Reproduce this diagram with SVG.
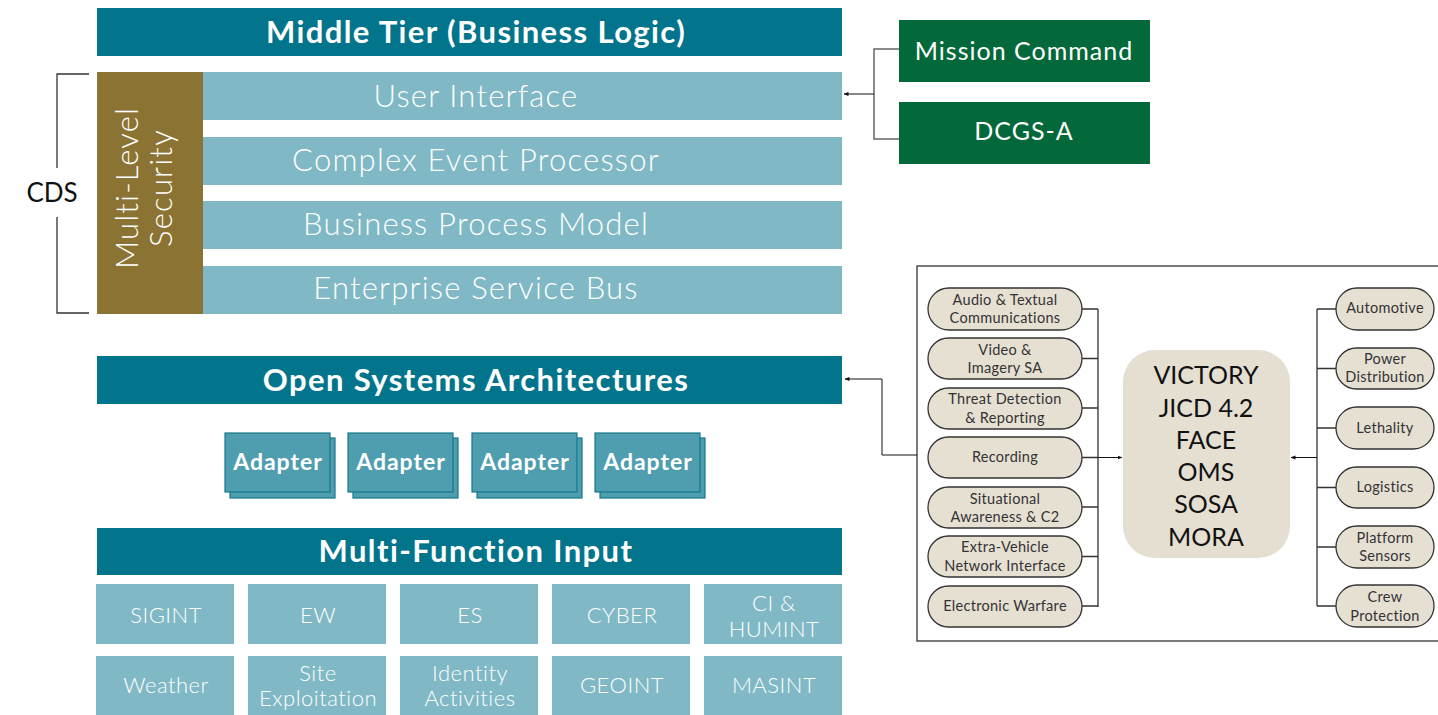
<svg xmlns="http://www.w3.org/2000/svg" width="1438" height="715" viewBox="0 0 1438 715">
<defs>
<style>
.hdr{fill:#02758C}
.row{fill:#80B9C5}
.ttl{font-family:Lato,"Noto Sans",sans-serif;font-weight:700;font-size:31px;letter-spacing:1.4px;fill:#fff;text-anchor:middle}
.lt{font-family:Lato,"Noto Sans",sans-serif;font-weight:300;font-size:31px;letter-spacing:1.2px;fill:#fff;text-anchor:middle}
.grid{font-family:Lato,"Noto Sans",sans-serif;font-weight:300;font-size:22px;letter-spacing:0.5px;fill:#fff;text-anchor:middle}
.grn{fill:#03693A}
.gt{font-family:Lato,"Noto Sans",sans-serif;font-weight:400;font-size:25px;letter-spacing:1px;fill:#fff;text-anchor:middle}
.ad{fill:#4E9EB0;stroke:#17778A;stroke-width:1.2}
.adt{font-family:Lato,"Noto Sans",sans-serif;font-weight:700;font-size:23px;letter-spacing:1px;fill:#fff;text-anchor:middle}
.pill{fill:#E6E0D3;stroke:#333;stroke-width:1.3}
.pt{font-family:Lato,"Noto Sans",sans-serif;font-weight:400;font-size:14.5px;letter-spacing:0.3px;fill:#333;text-anchor:middle}
.ct{font-family:Lato,"Noto Sans",sans-serif;font-weight:400;font-size:25px;fill:#111;text-anchor:middle}
.ln{fill:none;stroke:#333;stroke-width:1.3}
.gl{fill:none;stroke:#666;stroke-width:1.5}
.ar{fill:none;stroke:#111;stroke-width:1;marker-end:url(#ah)}
</style>
<marker id="ah" viewBox="0 0 10 10" refX="9" refY="5" markerWidth="5" markerHeight="5" orient="auto" markerUnits="strokeWidth">
<path d="M0,1 L10,5 L0,9 z" fill="#111"/>
</marker>
</defs>

<g id="middle-tier">
<rect class="hdr" x="97" y="8" width="745" height="48"/>
<text class="ttl" x="476" y="43">Middle Tier (Business Logic)</text>
</g>
<g id="mls">
<rect x="97" y="72" width="106" height="242" fill="#8B7433"/>
<text class="lt" transform="translate(138,188) rotate(-90)" x="0" y="0">Multi-Level</text>
<text class="lt" transform="translate(172,188) rotate(-90)" x="0" y="0">Security</text>
</g>
<g id="user-interface">
<rect class="row" x="203" y="72" width="639" height="48"/>
<text class="lt" x="476" y="107">User Interface</text>
</g>
<g id="cep">
<rect class="row" x="203" y="137" width="639" height="48"/>
<text class="lt" x="476" y="171">Complex Event Processor</text>
</g>
<g id="bpm">
<rect class="row" x="203" y="201" width="639" height="48"/>
<text class="lt" x="476" y="235">Business Process Model</text>
</g>
<g id="esb">
<rect class="row" x="203" y="266" width="639" height="48"/>
<text class="lt" x="476" y="299">Enterprise Service Bus</text>
</g>
<g id="cds">
<path class="ln" d="M89,74 H57 V168 M57,217 V313 H89"/>
<text x="52" y="202" font-family="Lato,'Noto Sans',sans-serif" font-size="26" fill="#111" text-anchor="middle">CDS</text>
</g>

<g id="mission-command">
<rect class="grn" x="899" y="20" width="251" height="62"/>
<text class="gt" x="1024" y="60">Mission Command</text>
</g>
<g id="dcgs-a">
<rect class="grn" x="899" y="102" width="251" height="62"/>
<text class="gt" x="1024" y="140">DCGS-A</text>
</g>

<g id="osa">
<rect class="hdr" x="97" y="356" width="745" height="48"/>
<text class="ttl" x="476" y="391">Open Systems Architectures</text>
</g>
<g id="adapter-1">
<rect class="ad" x="230" y="438" width="105" height="60"/>
<rect class="ad" x="225" y="433" width="105" height="59"/>
<text class="adt" x="278" y="470">Adapter</text>
</g>
<g id="adapter-2">
<rect class="ad" x="353" y="438" width="105" height="60"/>
<rect class="ad" x="348" y="433" width="105" height="59"/>
<text class="adt" x="401" y="470">Adapter</text>
</g>
<g id="adapter-3">
<rect class="ad" x="477" y="438" width="105" height="60"/>
<rect class="ad" x="472" y="433" width="105" height="59"/>
<text class="adt" x="525" y="470">Adapter</text>
</g>
<g id="adapter-4">
<rect class="ad" x="600" y="438" width="105" height="60"/>
<rect class="ad" x="595" y="433" width="105" height="59"/>
<text class="adt" x="648" y="470">Adapter</text>
</g>

<g id="mfi">
<rect class="hdr" x="97" y="528" width="745" height="47"/>
<text class="ttl" x="476" y="562">Multi-Function Input</text>
</g>
<g id="sigint"><rect class="row" x="96" y="584" width="138" height="60"/><text class="grid" x="166" y="623">SIGINT</text></g>
<g id="ew"><rect class="row" x="248" y="584" width="138" height="60"/><text class="grid" x="318" y="623">EW</text></g>
<g id="es"><rect class="row" x="400" y="584" width="138" height="60"/><text class="grid" x="470" y="623">ES</text></g>
<g id="cyber"><rect class="row" x="552" y="584" width="138" height="60"/><text class="grid" x="622" y="623">CYBER</text></g>
<g id="ci-humint"><rect class="row" x="704" y="584" width="138" height="60"/><text class="grid" x="774" y="611">CI &amp;</text><text class="grid" x="774" y="637">HUMINT</text></g>
<g id="weather"><rect class="row" x="96" y="656" width="138" height="59"/><text class="grid" x="166" y="693">Weather</text></g>
<g id="site-exploitation"><rect class="row" x="248" y="656" width="138" height="59"/><text class="grid" x="318" y="681">Site</text><text class="grid" x="318" y="706">Exploitation</text></g>
<g id="identity-activities"><rect class="row" x="400" y="656" width="138" height="59"/><text class="grid" x="470" y="681">Identity</text><text class="grid" x="470" y="706">Activities</text></g>
<g id="geoint"><rect class="row" x="552" y="656" width="138" height="59"/><text class="grid" x="622" y="693">GEOINT</text></g>
<g id="masint"><rect class="row" x="704" y="656" width="138" height="59"/><text class="grid" x="774" y="693">MASINT</text></g>

<g id="vehicle-panel">
<rect x="917" y="266" width="540" height="375" fill="none" stroke="#333" stroke-width="1.3"/>
</g>

<g id="audio"><rect class="pill" x="928" y="288" width="154" height="42" rx="21"/><text class="pt" x="1005" y="305">Audio &amp; Textual</text><text class="pt" x="1005" y="323">Communications</text></g>
<g id="video"><rect class="pill" x="928" y="338" width="154" height="41" rx="20.5"/><text class="pt" x="1005" y="355">Video &amp;</text><text class="pt" x="1005" y="373">Imagery SA</text></g>
<g id="threat"><rect class="pill" x="928" y="388" width="154" height="41" rx="20.5"/><text class="pt" x="1005" y="404">Threat Detection</text><text class="pt" x="1005" y="423">&amp; Reporting</text></g>
<g id="recording"><rect class="pill" x="928" y="437" width="154" height="41" rx="20.5"/><text class="pt" x="1005" y="462">Recording</text></g>
<g id="situational"><rect class="pill" x="928" y="487" width="154" height="41" rx="20.5"/><text class="pt" x="1005" y="504">Situational</text><text class="pt" x="1005" y="522">Awareness &amp; C2</text></g>
<g id="extra-vehicle"><rect class="pill" x="928" y="536" width="154" height="41" rx="20.5"/><text class="pt" x="1005" y="552">Extra-Vehicle</text><text class="pt" x="1005" y="571">Network Interface</text></g>
<g id="electronic-warfare"><rect class="pill" x="928" y="586" width="154" height="41" rx="20.5"/><text class="pt" x="1005" y="611">Electronic Warfare</text></g>

<g id="standards">
<rect x="1123" y="350" width="167" height="208" rx="32" fill="#E5DFD2"/>
<text class="ct" x="1206" y="384">VICTORY</text>
<text class="ct" x="1206" y="417">JICD 4.2</text>
<text class="ct" x="1206" y="449">FACE</text>
<text class="ct" x="1206" y="481">OMS</text>
<text class="ct" x="1206" y="513">SOSA</text>
<text class="ct" x="1206" y="546">MORA</text>
</g>

<g id="automotive"><rect class="pill" x="1336" y="288" width="98" height="42" rx="21"/><text class="pt" x="1385" y="313">Automotive</text></g>
<g id="power"><rect class="pill" x="1336" y="348" width="98" height="41" rx="20.5"/><text class="pt" x="1385" y="364">Power</text><text class="pt" x="1385" y="382">Distribution</text></g>
<g id="lethality"><rect class="pill" x="1336" y="407" width="98" height="42" rx="21"/><text class="pt" x="1385" y="433">Lethality</text></g>
<g id="logistics"><rect class="pill" x="1336" y="467" width="98" height="41" rx="20.5"/><text class="pt" x="1385" y="492">Logistics</text></g>
<g id="platform"><rect class="pill" x="1336" y="526" width="98" height="42" rx="21"/><text class="pt" x="1385" y="543">Platform</text><text class="pt" x="1385" y="561">Sensors</text></g>
<g id="crew"><rect class="pill" x="1336" y="585" width="98" height="42" rx="21"/><text class="pt" x="1385" y="602">Crew</text><text class="pt" x="1385" y="621">Protection</text></g>

<g id="connectors">
<path class="gl" d="M899,49 H874 V139 H899"/>
<path class="ar" d="M874,94 H844"/>
<path class="ar" d="M917,455 H882 V379 H845"/>
<path class="ln" d="M1082,309 H1098 M1082,358.5 H1098 M1082,408 H1098 M1082,457.5 H1098 M1082,507 H1098 M1082,556.5 H1098 M1082,606 H1098 M1098,309 V607"/>
<path class="ar" d="M1098,457.5 H1122"/>
<path class="ln" d="M1336,309 H1317 M1336,368.5 H1317 M1336,428 H1317 M1336,487.5 H1317 M1336,547 H1317 M1336,606 H1317 M1317,309 V606"/>
<path class="ar" d="M1317,457.5 H1291"/>
</g>
</svg>
